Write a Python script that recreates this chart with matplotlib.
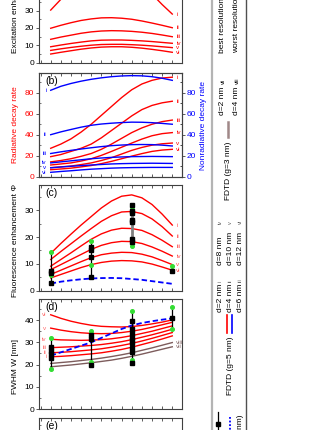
import matplotlib.pyplot as plt
from matplotlib.ticker import MultipleLocator

plt.rcParams['font.family'] = ['Liberation Sans', 'DejaVu Sans']
plt.rcParams['font.size'] = 6

W, H = 332, 430

# abscissa of the FDTD curves and of the measured samples
x_curve = [1, 1.25, 1.5, 1.75, 2, 2.25, 2.5, 2.75, 3, 3.25, 3.5, 3.75, 4]
x_meas = [1, 2, 3, 4]
roman = ['i', 'ii', 'iii', 'iv', 'v', 'vi']

# (a) excitation enhancement, d = 2..12 nm
exc = [[30.3, 36.5, 42, 46.5, 50, 52.3, 53, 52.3, 50, 45.5, 39.5, 33.5, 28.0],
       [19.8, 21.5, 23.0, 24.3, 25.2, 25.8, 25.9, 25.6, 25.0, 24.0, 22.8, 21.5, 20.1],
       [13.4, 14.7, 15.8, 16.9, 17.7, 18.2, 18.4, 18.3, 18.0, 17.5, 16.8, 15.9, 14.9],
       [9.1, 10.1, 11.0, 11.8, 12.5, 12.9, 13.0, 13.0, 12.8, 12.5, 12.1, 11.6, 11.1],
       [7.0, 7.9, 8.7, 9.4, 10.0, 10.4, 10.5, 10.5, 10.3, 10.0, 9.6, 9.1, 8.6],
       [4.9, 5.9, 6.8, 7.7, 8.4, 8.9, 9.1, 9.1, 8.8, 8.3, 7.6, 6.8, 5.9]]

# (b) radiative (red) and nonradiative (blue) decay rates
rad = [[27, 31, 36, 42.5, 50, 58.5, 67, 75.5, 83, 88.5, 92, 94.2, 95],
       [19, 21, 24, 27, 31, 37, 44, 51, 58, 64, 68, 70.5, 72],
       [14, 15.3, 17, 19.3, 22, 26, 31, 36.5, 42, 46.5, 50, 52.5, 54],
       [11, 12, 13, 14.8, 17, 20.2, 24, 28, 32, 35.8, 39, 41, 42],
       [8.5, 9.2, 10, 11.4, 13, 15.3, 18, 21.5, 25, 27.8, 30, 31.3, 32],
       [6.5, 7.2, 8, 9.2, 10.5, 12.3, 14.5, 17, 19.5, 21.9, 24, 25.3, 26]]
nonrad = [[82.5, 86.3, 89, 91.2, 93, 94.4, 95.5, 96.2, 96.5, 96.3, 95.5, 94, 92],
          [40, 42.7, 45, 47.2, 49, 50.2, 51, 51.6, 52, 51.9, 51.5, 50.8, 50],
          [22, 23.6, 25, 26.3, 27.5, 28.6, 29.5, 30.1, 30.5, 30.6, 30.5, 30, 29.2],
          [13, 14, 15, 16, 17, 17.7, 18.3, 18.7, 19, 19.1, 19.2, 19.1, 19],
          [8.3, 9.1, 9.8, 10.4, 11, 11.5, 12, 12.3, 12.5, 12.6, 12.7, 12.6, 12.5],
          [4, 4.8, 5.5, 6.3, 7, 7.5, 8, 8.3, 8.5, 8.6, 8.7, 8.7, 8.7]]

# (c) fluorescence enhancement
phi = [[13.9, 17.6, 21.1, 24.5, 27.7, 30.9, 33.5, 35.3, 35.8, 34.7, 32.2, 28.6, 24.5],
       [11.6, 14.6, 17.5, 20.4, 23.2, 25.9, 28.0, 29.4, 29.6, 28.8, 26.8, 23.9, 20.4],
       [9.1, 11.6, 14.1, 16.7, 19.2, 21.2, 22.6, 23.3, 23.2, 22.5, 20.9, 18.8, 16.4],
       [7.8, 9.7, 11.6, 13.5, 15.4, 16.9, 17.9, 18.4, 18.3, 17.6, 16.3, 14.7, 12.9],
       [6.0, 7.6, 9.2, 10.8, 12.3, 13.4, 14.0, 14.3, 14.2, 13.6, 12.6, 11.2, 9.7],
       [4.7, 6.0, 7.3, 8.6, 9.7, 10.5, 11.0, 11.2, 11.1, 10.7, 9.9, 8.8, 7.6]]
phi_model = [2.6, 3.3, 3.8, 4.2, 4.5, 4.65, 4.7, 4.6, 4.3, 4.0, 3.5, 3.0, 2.5]
phi_black = [[7.2, 6.6, 2.8], [16.2, 15.2, 12.5, 5.2],
             [32.0, 29.8, 29.0, 26.3, 25.5, 19.2, 18.2], [7.2]]
phi_green = [[14.5, 5.7], [18.5, 9.5], [30.7, 16.6], [9.1]]

# (d) FWHM
fwhm = [[23.5, 23.7, 24.0, 24.4, 24.8, 25.3, 26.0, 26.8, 27.8, 29.0, 30.2, 31.5, 32.9],
        [25.3, 25.5, 25.8, 26.2, 26.6, 27.1, 27.8, 28.6, 29.5, 30.6, 31.8, 33.1, 34.4],
        [27.6, 27.8, 28.0, 28.3, 28.6, 29.0, 29.6, 30.3, 31.2, 32.3, 33.4, 34.6, 35.9],
        [31.4, 31.1, 31.0, 30.9, 31.0, 31.2, 31.6, 32.2, 33.0, 34.0, 35.0, 36.2, 37.4],
        [36.4, 35.5, 34.8, 34.3, 34.0, 33.9, 34.0, 34.4, 35.0, 35.8, 36.8, 37.9, 39.0],
        [42.4, 40.8, 39.5, 38.5, 37.7, 37.2, 37.0, 36.9, 37.1, 37.6, 38.3, 39.1, 40.1]]
fwhm_g3 = [[19.0, 19.4, 19.8, 20.3, 20.8, 21.4, 22.0, 22.8, 23.7, 24.7, 25.8, 26.9, 28.0],
           [20.5, 20.9, 21.3, 21.8, 22.3, 22.9, 23.6, 24.4, 25.3, 26.4, 27.5, 28.7, 29.9]]
roman_g3 = ['vii', 'viii']
fwhm_model = [24.0, 25.5, 27.0, 28.5, 30.0, 32.0, 34.0, 36.0, 37.6, 38.7, 39.5, 40.2, 40.8]
w_black = [[27.8, 26.2, 24.6, 23.0], [33.2, 31.6, 19.9],
           [39.7, 35.9, 34.4, 32.6, 30.9, 29.9, 27.6, 25.6, 20.8], [40.8]]
w_green = [[31.8, 17.8], [34.9, 21.2], [43.9, 21.9], [45.8, 35.9]]

RED = '#ff0000'
BLUE = '#0000ff'
BROWN = '#7d5c5c'
GREEN = '#33dd33'

fig = plt.figure(figsize=(W / 100, H / 100), dpi=100)


def px_axes(top, bottom):
    return fig.add_axes([39 / W, 1 - bottom / H, (182 - 39) / W, (bottom - top) / H])


def style(ax, ylim, ymaj, ymin):
    ax.set_xlim(0.711, 4.24)
    ax.set_ylim(*ylim)
    ax.xaxis.set_major_locator(MultipleLocator(0.25))
    ax.tick_params(axis='x', direction='in', top=True, length=2.5, labelbottom=False,
                   color='#404040', width=0.6)
    ax.yaxis.set_major_locator(MultipleLocator(ymaj))
    ax.yaxis.set_minor_locator(MultipleLocator(ymin))
    ax.tick_params(axis='y', which='major', direction='out', length=2.5, pad=1,
                   color='#404040', width=0.6, labelsize=6)
    ax.tick_params(axis='y', which='minor', direction='in', length=1.5,
                   color='#404040', width=0.5)
    for s in ax.spines.values():
        s.set_color('#404040')
        s.set_linewidth(0.8)


def panel_label(ax, s):
    ax.annotate(s, xy=(0, 1), xycoords='axes fraction', xytext=(4.5, -2.5),
                textcoords='offset points', va='top', ha='left', fontsize=7.5)


def end_labels(ax, curves, names, color, left=False, size=4.5):
    for c, r in zip(curves, names):
        if left:
            ax.annotate(r, (x_curve[0], c[0]), xytext=(-3, 0), textcoords='offset points',
                        ha='right', va='center', color=color, fontsize=size)
        else:
            ax.annotate(r, (x_curve[-1], c[-1]), xytext=(3, 0), textcoords='offset points',
                        ha='left', va='center', color=color, fontsize=size)


def samples(ax, black, green, thick=None):
    for i, x in enumerate(x_meas):
        vals = black[i] + green[i]
        gray = thick is not None and i == thick
        ax.vlines(x, min(vals), max(vals), color='#808080' if gray else 'black',
                  lw=2 if gray else 0.9, zorder=4)
        ax.plot([x] * len(green[i]), green[i], 'o', color=GREEN, ms=2.6, mec=GREEN, zorder=5)
        ax.plot([x] * len(black[i]), black[i], 's', color='black', ms=2.2, zorder=6)


# (a)
ax_a = px_axes(62.5 - 60 * 1.73, 62.5)
style(ax_a, (0, 60), 10, 5)
for c in exc:
    ax_a.plot(x_curve, c, color=RED, lw=1)
end_labels(ax_a, exc, roman, RED)

# (b)
ax_b = px_axes(72.5, 176.5)
style(ax_b, (0, 99.5), 20, 10)
ax_b2 = ax_b.twinx()
ax_b2.set_ylim(0, 99.5)
ax_b2.yaxis.set_major_locator(MultipleLocator(20))
ax_b2.yaxis.set_minor_locator(MultipleLocator(10))
ax_b2.tick_params(axis='y', which='major', direction='out', length=2.5, pad=1,
                  labelcolor=BLUE, color='#404040', width=0.6, labelsize=6)
ax_b2.tick_params(axis='y', which='minor', direction='in', length=1.5, width=0.5)
for s in ax_b2.spines.values():
    s.set_color('#404040')
    s.set_linewidth(0.8)
ax_b.tick_params(axis='y', labelcolor=RED)
for c in rad:
    ax_b.plot(x_curve, c, color=RED, lw=1)
for c in nonrad:
    ax_b2.plot(x_curve, c, color=BLUE, lw=1)
end_labels(ax_b, rad, roman, RED)
end_labels(ax_b2, nonrad, roman, BLUE, left=True)
panel_label(ax_b, '(b)')

# (c)
ax_c = px_axes(185, 290.5)
style(ax_c, (0, 39.5), 10, 5)
for c in phi:
    ax_c.plot(x_curve, c, color=RED, lw=1)
ax_c.plot(x_curve, phi_model, color=BLUE, lw=1.3, ls=(0, (3, 1.6)))
samples(ax_c, phi_black, phi_green, thick=2)
end_labels(ax_c, phi, roman, '#ff5050')
panel_label(ax_c, '(c)')

# (d)
ax_d = px_axes(299, 409)
style(ax_d, (0, 49.5), 10, 5)
for c in fwhm:
    ax_d.plot(x_curve, c, color=RED, lw=1)
for c in fwhm_g3:
    ax_d.plot(x_curve, c, color=BROWN, lw=1)
ax_d.plot(x_curve, fwhm_model, color=BLUE, lw=1.3, ls=(0, (3, 1.6)))
samples(ax_d, w_black, w_green)
end_labels(ax_d, fwhm, roman, '#ff6a6a', left=True)
end_labels(ax_d, fwhm_g3, roman_g3, '#8c7070')
panel_label(ax_d, '(d)')

# (e)
ax_e = px_axes(418, 523)
style(ax_e, (0, 48), 10, 5)
panel_label(ax_e, '(e)')

# axis titles
fig.text(15.5 / W, 1 - 53 / H, 'Excitation enhancement', rotation=90,
         ha='center', va='bottom', fontsize=6)
fig.text(15.5 / W, 1 - 124.5 / H, 'Radiative decay rate', rotation=90,
         ha='center', va='center', fontsize=6, color=RED)
fig.text(203 / W, 1 - 125 / H, 'Nonradiative decay rate', rotation=90,
         ha='center', va='center', fontsize=6, color=BLUE)
fig.text(15.5 / W, 1 - 297 / H, 'Fluorescence enhancement \u03a6', rotation=90,
         ha='center', va='bottom', fontsize=6)
fig.text(15.5 / W, 1 - 366 / H, 'FWHM W [nm]', rotation=90,
         ha='center', va='center', fontsize=6)

# rotated legend strip on the right
lg = fig.add_axes([211.5 / W, 0, (246 - 211.5) / W, 1])
lg.set_xlim(211.5, 246)
lg.set_ylim(H, 0)
lg.set_xticks([])
lg.set_yticks([])
lg.patch.set_alpha(0)
lg.spines['top'].set_visible(False)
lg.spines['bottom'].set_visible(False)
lg.spines['left'].set_color('#b4b4b4')
lg.spines['left'].set_linewidth(1.6)
lg.spines['right'].set_color('#505050')
lg.spines['right'].set_linewidth(1)


def ltxt(x, y, s, size=6, va='bottom', color='black'):
    lg.text(x, y, s, rotation=90, ha='center', va=va, fontsize=size, color=color)


ltxt(223, 53, 'best resolution')
ltxt(237, 53, 'worst resolution')
ltxt(223, 115, 'd=2 nm')
ltxt(223, 84, roman_g3[0], size=4)
ltxt(237, 115, 'd=4 nm')
ltxt(237, 84, roman_g3[1], size=4)
lg.plot([228, 228], [122, 137], color='#a08888', lw=1.8)
ltxt(228, 200, 'FDTD (g=3 nm)')

for col, (d_lo, d_hi, r_lo, r_hi) in zip([220, 230.5, 240.5],
                                         [('d=2 nm', 'd=8 nm', 'i', 'iv'),
                                          ('d=4 nm', 'd=10 nm', 'ii', 'v'),
                                          ('d=6 nm', 'd=12 nm', 'iii', 'vi')]):
    ltxt(col, 312, d_lo)
    ltxt(col, 282, r_lo, size=4, color='#606060')
    ltxt(col, 265, d_hi)
    ltxt(col, 224, r_hi, size=4, color='#606060')
lg.plot([227, 227], [315, 333], color=RED, lw=1.2)
lg.plot([231.5, 231.5], [315, 333], color=BLUE, lw=1.2)
ltxt(230, 395, 'FDTD (g=5 nm)')

lg.plot([218, 218], [412, 445], color='black', lw=0.9)
lg.plot([218], [424], 's', color='black', ms=2.2)
lg.plot([230, 230], [417, 445], color=BLUE, lw=1.3, ls=(0, (1, 1)))
ltxt(240, 414, 'Model (g=5 nm)', va='top')

fig.savefig('out.png', dpi=100)
